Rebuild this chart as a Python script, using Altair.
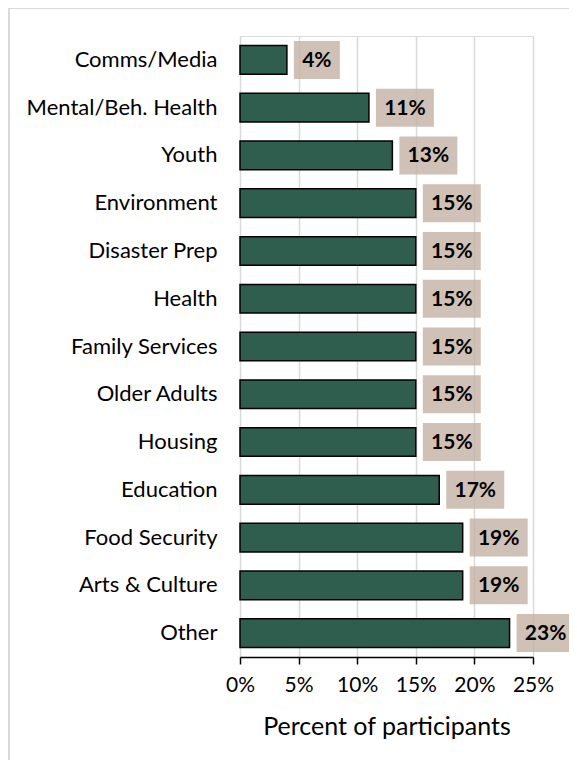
import altair as alt
import pandas as pd

categories = ["Comms/Media", "Mental/Beh. Health", "Youth", "Environment", "Disaster Prep",
              "Health", "Family Services", "Older Adults", "Housing", "Education",
              "Food Security", "Arts & Culture", "Other"]
values = [4, 11, 13, 15, 15, 15, 15, 15, 15, 17, 19, 19, 23]
x_ticks = [0, 5, 10, 15, 20, 25]

df = pd.DataFrame({"category": categories, "value": values})
df["label"] = df["value"].astype(str) + "%"

FONT = "Lato"

y_enc = alt.Y("category:N", sort=categories,
              scale=alt.Scale(paddingInner=0.4, paddingOuter=0.2),
              axis=alt.Axis(title=None, domain=False, ticks=False, labelPadding=23,
                            labelFontSize=22, labelColor="black", labelFont=FONT,
                            labelLimit=300))
x_enc = alt.X("value:Q", scale=alt.Scale(domain=[0, 25], nice=False),
              axis=alt.Axis(values=x_ticks, labelExpr="datum.value + '%'",
                            labelOverlap=False, labelFlush=False,
                            title="Percent of participants", titleFontSize=25,
                            titleFontWeight="normal", titleFont=FONT, titleColor="black",
                            titlePadding=19,
                            labelFontSize=21, labelFont=FONT, labelColor="black",
                            labelPadding=10,
                            domainColor="black", domainWidth=1.5,
                            tickColor="black", tickSize=7, tickWidth=1.5,
                            grid=True, gridColor="#d9d9d9", gridWidth=1.5))

base = alt.Chart(df)

frame = base.mark_rect(fill=None, stroke="#d9d9d9", strokeWidth=2).encode(
    x=alt.value(-231), x2=alt.value(700), y=alt.value(-28), y2=alt.value(900))

bars = base.mark_bar(color="#2f5e4e", stroke="black", strokeWidth=1.5).encode(
    x=x_enc, y=y_enc)

box_short = base.transform_filter("datum.value < 10").mark_bar(
    color="#c6b3a6", opacity=0.82, size=38, xOffset=7, x2Offset=53).encode(
    x="value:Q", x2="value", y=alt.Y("category:N", sort=categories))
box_long = base.transform_filter("datum.value >= 10").mark_bar(
    color="#c6b3a6", opacity=0.82, size=38, xOffset=7, x2Offset=65).encode(
    x="value:Q", x2="value", y=alt.Y("category:N", sort=categories))

txt_short = base.transform_filter("datum.value < 10").mark_text(
    align="center", baseline="middle", dx=30, dy=1, fontSize=21, fontWeight="bold",
    font=FONT, color="black").encode(
    x="value:Q", y=alt.Y("category:N", sort=categories), text="label:N")
txt_long = base.transform_filter("datum.value >= 10").mark_text(
    align="center", baseline="middle", dx=36, dy=1, fontSize=21, fontWeight="bold",
    font=FONT, color="black").encode(
    x="value:Q", y=alt.Y("category:N", sort=categories), text="label:N")

chart = alt.layer(frame, bars, box_short, box_long, txt_short, txt_long).properties(
    width=293, height=621,
    autosize=alt.AutoSizeParams(type="none"),
    padding={"left": 232, "top": 28, "right": 36, "bottom": 103},
).configure_view(fill="#f2f2f2", stroke=None).configure(background="white")

chart.save("out.html", embed_options={"renderer": "svg", "actions": False})
